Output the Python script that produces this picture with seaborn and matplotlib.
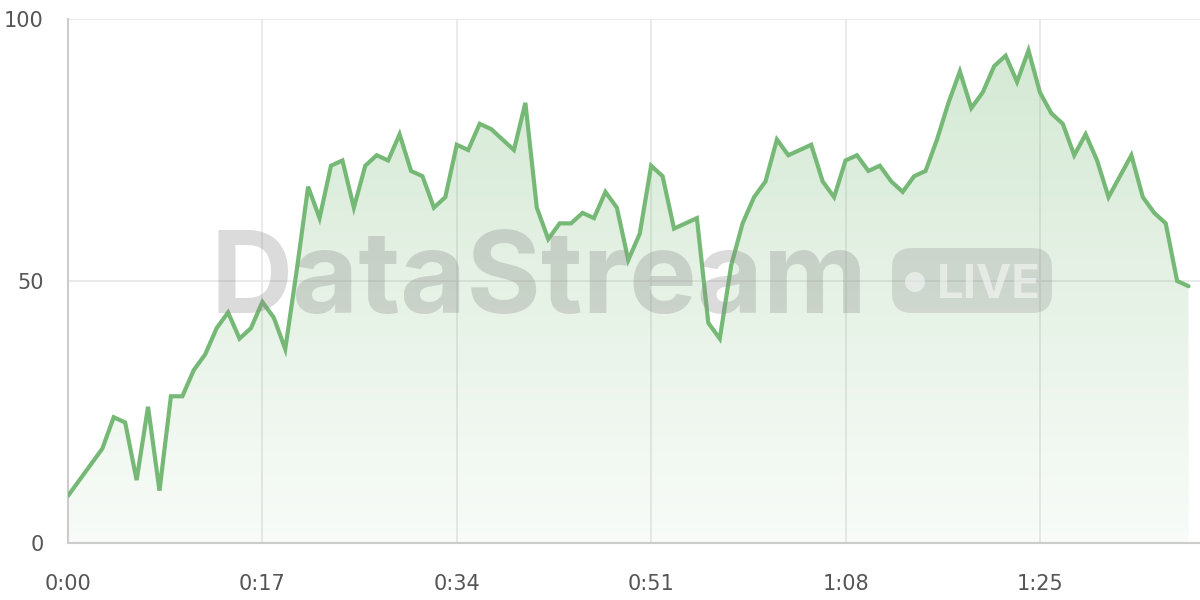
import numpy as np
import pandas as pd
import seaborn as sns
import matplotlib
matplotlib.use("Agg")
from matplotlib import pyplot as plt
from matplotlib.colors import LinearSegmentedColormap
from matplotlib.patches import FancyBboxPatch, Circle
from matplotlib.ticker import FuncFormatter

# one reading per second
seconds = list(range(99))
values = [
    9, 12, 15, 18, 24, 23, 12, 26, 10, 28,
    28, 33, 36, 41, 44, 39, 41, 46, 43, 37,
    52, 68, 62, 72, 73, 64, 72, 74, 73, 78,
    71, 70, 64, 66, 76, 75, 80, 79, 77, 75,
    84, 64, 58, 61, 61, 63, 62, 67, 64, 54,
    59, 72, 70, 60, 61, 62, 42, 39, 53, 61,
    66, 69, 77, 74, 75, 76, 69, 66, 73, 74,
    71, 72, 69, 67, 70, 71, 77, 84, 90, 83,
    86, 91, 93, 88, 94, 86, 82, 80, 74, 78,
    73, 66, 70, 74, 66, 63, 61, 50, 49,
]
x_ticks = [0, 17, 34, 51, 68, 85]
y_ticks = [0, 50, 100]

line_color = "#76b976"
grid_color = "#e8e8e8"
axis_color = "#cccccc"
label_color = "#555555"
wm_font = ["Inter", "DejaVu Sans"]

sns.set_style("white")
plt.rcParams["font.family"] = ["DejaVu Sans"]

df = pd.DataFrame({"t": seconds, "value": values})

fig = plt.figure(figsize=(12, 6), dpi=100)
ax = fig.add_axes([68 / 1200, 57 / 600, 1 - 68 / 1200, 524 / 600])

xmax = 99.0
ax.set_xlim(0, xmax)
ax.set_ylim(0, 100)

# gradient fill under the line
poly = ax.fill_between(df["t"], df["value"], 0, color="none", lw=0)
cmap = LinearSegmentedColormap.from_list(
    "g", [(0.463, 0.725, 0.463, 0.05), (0.463, 0.725, 0.463, 0.33)])
grad = np.linspace(0, 1, 256).reshape(-1, 1)
img = ax.imshow(grad, cmap=cmap, origin="lower", aspect="auto",
                extent=[0, xmax, 0, 100], zorder=1)
img.set_clip_path(poly.get_paths()[0], transform=ax.transData)

# watermark (positions in inches, figure is 12x6)
fig.text(2.10, 2.87, "DataStream", fontsize=82, fontweight="bold",
         color="#888888", alpha=0.3, ha="left", va="baseline", zorder=2,
         family=wm_font, transform=fig.dpi_scale_trans)
pill = FancyBboxPatch((8.92, 2.87), 1.60, 0.65,
                      boxstyle="round,pad=0,rounding_size=0.2",
                      transform=fig.dpi_scale_trans, facecolor="#888888",
                      alpha=0.25, edgecolor="none", zorder=2)
fig.add_artist(pill)
fig.add_artist(Circle((9.15, 3.18), 0.10, transform=fig.dpi_scale_trans,
                      facecolor="white", alpha=0.5, edgecolor="none", zorder=3))
fig.text(9.37, 3.02, "LIVE", fontsize=34, fontweight="bold",
         color="white", alpha=0.5, ha="left", va="baseline", zorder=3,
         family=wm_font, transform=fig.dpi_scale_trans)

sns.lineplot(data=df, x="t", y="value", ax=ax, color=line_color, linewidth=3,
             zorder=4)
ax.lines[-1].set_solid_joinstyle("miter")

ax.set_xticks(x_ticks)
ax.set_yticks(y_ticks)
ax.xaxis.set_major_formatter(FuncFormatter(lambda v, p: f"{int(v) // 60}:{int(v) % 60:02d}"))
ax.grid(True, color=grid_color, linewidth=1.3, zorder=0)
ax.set_axisbelow(True)
ax.tick_params(axis="y", length=14, width=1.3, color=grid_color, pad=3.5,
               labelsize=15, labelcolor=label_color)
ax.tick_params(axis="x", length=7, width=1.3, color=grid_color, pad=15,
               labelsize=15, labelcolor=label_color)
for side in ["top", "right"]:
    ax.spines[side].set_visible(False)
for side in ["left", "bottom"]:
    ax.spines[side].set_color(axis_color)
    ax.spines[side].set_linewidth(1.5)
ax.set_xlabel("")
ax.set_ylabel("")

fig.savefig("out.png", dpi=100)
